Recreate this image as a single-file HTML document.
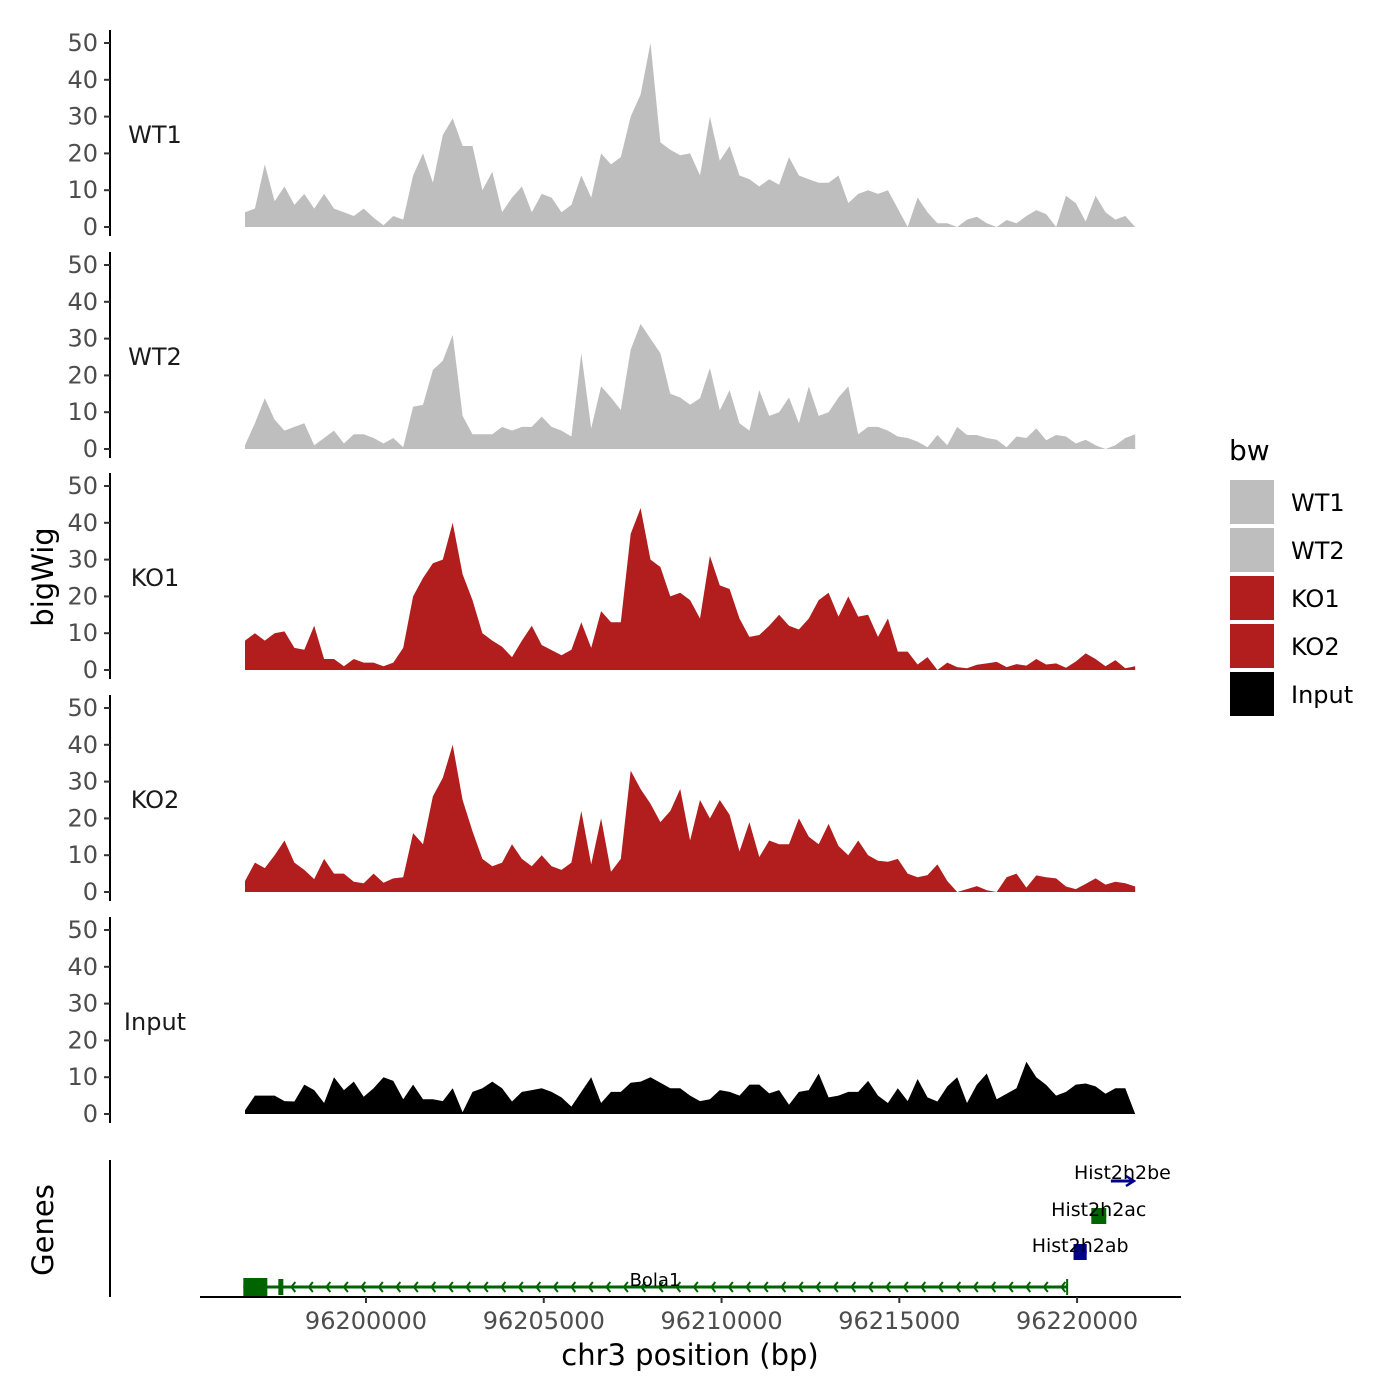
<!DOCTYPE html>
<html><head><meta charset="utf-8">
<style>
html,body{margin:0;padding:0;background:#fff;}
svg{display:block;font-family:"DejaVu Sans","Liberation Sans",sans-serif;}
</style></head>
<body>
<svg id="chart" width="1400" height="1400" viewBox="0 0 1400 1400" xmlns="http://www.w3.org/2000/svg">
<rect width="1400" height="1400" fill="#fff"/>
<g id="tracks"></g>
<g id="genes"></g>
<g id="xaxis"></g>
<text transform="translate(53,577) rotate(-90)" text-anchor="middle" font-size="29" fill="#000">bigWig</text>
<text transform="translate(53,1230) rotate(-90)" text-anchor="middle" font-size="29" fill="#000">Genes</text>
<text x="690" y="1365" text-anchor="middle" font-size="29" fill="#000">chr3 position (bp)</text>
<g id="legend">
<text x="1229" y="460" font-size="28" fill="#000">bw</text>
</g>
</svg>
<script>
const trackNames = ["WT1","WT2","KO1","KO2","Input"];
const trackColors = ["#bebebe","#bebebe","#b21e1e","#b21e1e","#000000"];
const startBp = 96196596;
const stepBp = 278.2;
const yTicks = [0,10,20,30,40,50];
const xTicks = [96200000,96205000,96210000,96215000,96220000];
const wt1 = [4,5,17,7,11,6,9,5,9,5,4,3,5,2.5,0.5,3,2,14,20,12,25,29.5,22,22,10,15,4,8,11,4,9,8,4,6,14,8,20,17,19,30,36,50,23,21,19.5,20,14,30,18,22,14,13,11,13,11.5,19,14,13,12,12,14,6.5,9,10,9,10,5,0,8,4,1,1,0,2,2.8,1,0,1.9,1,3,4.6,3.5,0,8.5,6.5,1.5,8.5,4,2,3,0];
const wt2 = [1,7,13.8,8,5,6,7,1,3,5,1.5,4,4,3,1.5,3,0.5,11.5,12,21.5,24,31,9,4,4,4,6,5,6,6,8.8,6,5,3.4,26,5.6,17,14,10.6,27,34,30,26,15,14,12,13.8,22,10.5,16,7,5,16,9,10,14,7,17,9,10,14,17,4,6,6,5,3.4,3,2,0.5,3.8,1,6,3.8,3.8,3,2.5,0.5,3.4,3,5.6,2.4,3.8,3.4,1.5,2.5,1,0,1,3,4];
const ko1 = [8,10,8,10,10.5,6,5.5,12,3,3,1,3,2,2,1,2,6,20,25,29,30,40,26,19,10,8,6.3,3.5,8,12,6.8,5.4,4,5.5,13,6,16,13,13,37,44,30,28,20,21,19,14,31,23,22,14,9,9.5,12,15,12,11,14,19,21,14.5,20,14.5,15,9,14,5,5,1.5,3.5,0,2,0.8,0.5,1.4,1.8,2.2,0.8,1.6,1.2,3,1.5,1.8,0.6,2.3,4.5,3,1,2.7,0.5,1];
const ko2 = [3,8,6.5,10,14,8,6,3.5,9,5,5,2.8,2.4,5,2.5,3.7,4,16,13,26,31,40,25,16.5,9,7,8,13,9,7,10,7,6,8,22,7.5,20,5.5,9,33,28,24,19,22,28,14,25,20,25,21,11,19,9.5,14,13,13,20,15,13,18.5,12.5,10,14,10,8.5,8.2,9,5,4,4.6,7.5,3,0,0.8,1.6,0.5,0,4,5,1.2,4.5,4,3.7,1.5,0.8,2.2,3.7,2,2.8,2.4,1.5];
const input = [1,5,5,5,3.5,3.4,8,6.5,3,10,6.5,8.8,4.7,7,10,9,4,8,4,4,3.5,7,0.5,6,7,8.8,7,3.4,6,6.5,7,6,4.5,2,6,10,3,6,6,8.5,8.8,10,8.5,7,7,5,3.5,4,6.5,6,5,8,8,5.6,6.5,2.5,6,6.5,11,4.5,5,6,6,9,5,3,7,3.5,9.5,4.5,3.4,7.5,10,3,8,11,4,5.5,7,14.2,10,7.9,5,6,8,8.3,7.5,5.5,7,7,0];
const trackValues = [wt1,wt2,ko1,ko2,input];
const geneNames = ["Bola1","Hist2h2ab","Hist2h2ac","Hist2h2be"];
const geneStarts = [96196550,96219900,96220400,96220950];
const geneEnds = [96219720,96220270,96220820,96221600];
const geneStrands = ["-","+","-","+"];
const geneRows = [0,1,2,3];

const NS="http://www.w3.org/2000/svg";
function mk(tag,attrs,parent){const e=document.createElementNS(NS,tag);for(const k in attrs)e.setAttribute(k,attrs[k]);parent.appendChild(e);return e;}
function xScale(bp){return 366+(bp-96200000)*0.035555;}
const panelZero=[227,449,670,892,1114];
const yPer=3.68;

const tracksG=document.getElementById('tracks');
trackNames.forEach((name,t)=>{
  const y0=panelZero[t];
  const yS=v=>y0-v*yPer;
  const g=mk('g',{},tracksG);
  
  
  const vals=trackValues[t];
  let d='M'+xScale(startBp).toFixed(1)+','+y0;
  vals.forEach((v,i)=>{d+=' L'+xScale(startBp+i*stepBp).toFixed(1)+','+yS(v).toFixed(1);});
  d+=' L'+xScale(startBp+(vals.length-1)*stepBp).toFixed(1)+','+y0+' Z';
  const p=mk('path',{d:d,fill:trackColors[t]},g);
  
  
  const ax=mk('line',{x1:110,x2:110,y1:y0-197,y2:y0+9,stroke:'#000','stroke-width':2},g);
  
  
  yTicks.forEach(v=>{
    mk('line',{x1:104,x2:110,y1:yS(v),y2:yS(v),stroke:'#333','stroke-width':2},g);
    const tx=mk('text',{x:98,y:yS(v)+8,'text-anchor':'end','font-size':24,fill:'#4d4d4d'},g);
    tx.textContent=v;
    
    
  });
  const lb=mk('text',{x:155,y:yS(25)+8,'text-anchor':'middle','font-size':24,fill:'#1a1a1a'},g);
  lb.textContent=name;
  
  
});

// genes
const genesG=document.getElementById('genes');
const ga=mk('line',{x1:110,x2:110,y1:1160,y2:1297,stroke:'#000','stroke-width':2},genesG);


const rowY=[1287,1252,1216,1181];
geneNames.forEach((n,i)=>{
  const g=mk('g',{},genesG);
  
  
  const col=(geneStrands[i]==='-')?'#006400':'#00008b';
  const x1=xScale(geneStarts[i]),x2=xScale(geneEnds[i]),y=rowY[geneRows[i]];
  mk('line',{x1:x1,x2:x2,y1:y,y2:y,stroke:col,'stroke-width':3},g);
  if(i===0){
    mk('rect',{x:x1,y:y-9,width:24,height:18,fill:col},g);
    mk('rect',{x:x1+35,y:y-8,width:5,height:16,fill:col},g);
    mk('line',{x1:x2,x2:x2,y1:y-8,y2:y+8,stroke:col,'stroke-width':2},g);
    for(let ax=x1+48;ax<x2-5;ax+=17.5){mk('path',{d:`M${ax+4},${y-5} L${ax},${y} L${ax+4},${y+5}`,stroke:col,fill:'none','stroke-width':2},g);}
    const t=mk('text',{x:655,y:y-1,'text-anchor':'middle','font-size':18,fill:'#000'},g);t.textContent=n;
  } else if(i===3){
    mk('path',{d:`M${x2-8},${y-5} L${x2},${y} L${x2-8},${y+5}`,stroke:col,fill:'none','stroke-width':2.5},g);
    const t=mk('text',{x:(x1+x2)/2,y:y-2,'text-anchor':'middle','font-size':19,fill:'#000'},g);t.textContent=n;
  } else {
    mk('rect',{x:x1,y:y-8,width:x2-x1,height:16,fill:col},g);
    const t=mk('text',{x:(x1+x2)/2,y:y,'text-anchor':'middle','font-size':19,fill:'#000'},g);t.textContent=n;
  }
});

// x axis
const xg=document.getElementById('xaxis');
const xl=mk('line',{x1:200,x2:1181,y1:1297,y2:1297,stroke:'#000','stroke-width':2},xg);


xTicks.forEach(v=>{
  const x=xScale(v);
  mk('line',{x1:x,x2:x,y1:1297,y2:1303,stroke:'#333','stroke-width':2},xg);
  const t=mk('text',{x:x,y:1329,'text-anchor':'middle','font-size':24,fill:'#4d4d4d'},xg);
  t.textContent=v;
  
  
});

// legend
const lg=document.getElementById('legend');
trackNames.forEach((n,i)=>{
  const y=480+i*48;
  const r=mk('rect',{x:1230,y:y,width:44,height:44,fill:trackColors[i]},lg);
  
  
  const t=mk('text',{x:1291,y:y+31,'font-size':24,fill:'#000'},lg);
  t.textContent=n;
  
  
});
</script>
</body></html>
